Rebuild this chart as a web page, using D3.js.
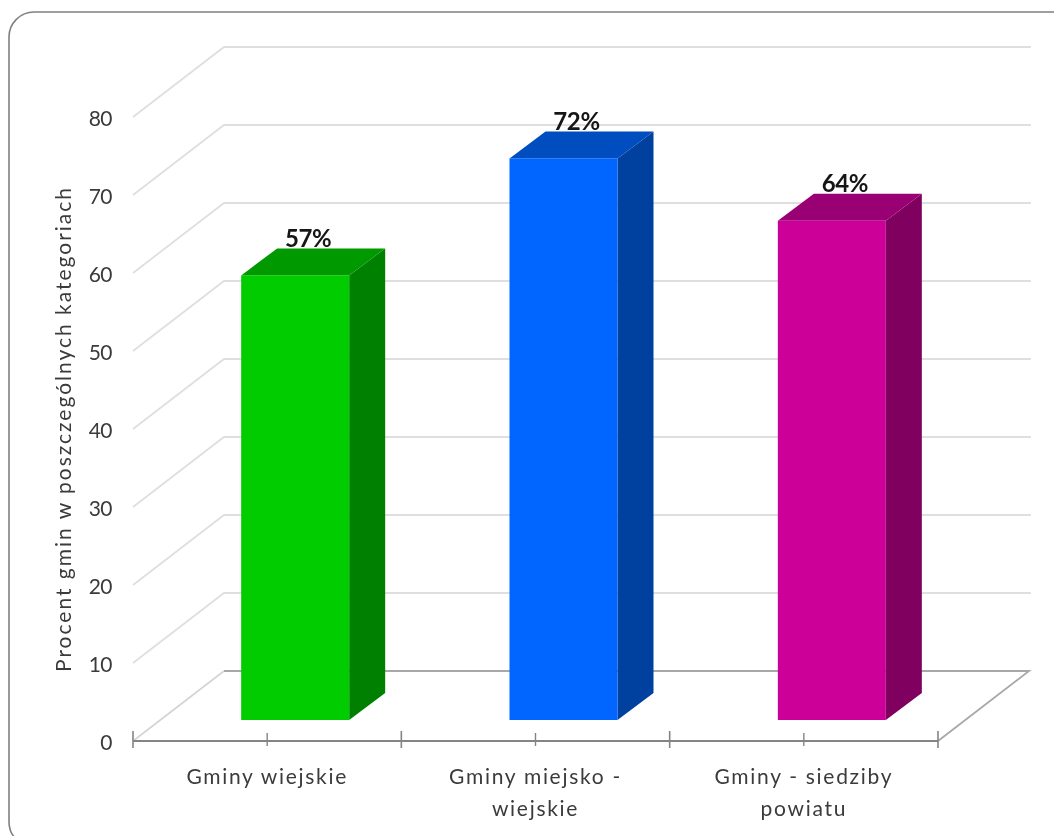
<!DOCTYPE html>
<html lang="pl">
<head>
<meta charset="utf-8">
<script src="https://cdn.jsdelivr.net/npm/d3@7/dist/d3.min.js"></script>
<style>
html,body{margin:0;padding:0;background:#fff;overflow:hidden}
svg{display:block}
text{font-family:Lato,"Open Sans",sans-serif}
</style>
</head>
<body>
<svg id="chart" width="1054" height="836"></svg>
<script>
const categories = ["Gminy wiejskie", "Gminy miejsko - wiejskie", "Gminy - siedziby powiatu"];
const categoryLines = [["Gminy wiejskie"], ["Gminy miejsko -", "wiejskie"], ["Gminy - siedziby", "powiatu"]];
const values = [57, 72, 64];
const valueLabels = ["57%", "72%", "64%"];
const yTicks = [0, 10, 20, 30, 40, 50, 60, 70, 80];
const yTitle = "Procent gmin w poszczególnych kategoriach";
const frontColors = ["#00cc00", "#0066ff", "#cc0099"];
const topColors = ["#009900", "#004dbf", "#990073"];
const sideColors = ["#008000", "#00409f", "#800060"];

const svg = d3.select("#chart");
svg.append("defs").append("filter").attr("id", "soft")
  .attr("filterUnits", "userSpaceOnUse")
  .attr("x", 0).attr("y", 0).attr("width", 1054).attr("height", 836)
  .append("feGaussianBlur").attr("stdDeviation", 0.6);
const root = svg.append("g").attr("filter", "url(#soft)");

const x = d3.scaleBand().domain(categories).range([133, 938]);
const y = d3.scaleLinear().domain([0, 80]).range([741, 117]);
const wallDx = 91, wallDy = -70;           // oblique depth of the chart box
const barDx = 36, barDy = -27;             // oblique depth of a bar
const gapDx = 28, gapDy = -21;             // distance of bars from the front edge
const barW = 108;

// frame
root.append("rect").attr("x", 9).attr("y", 12).attr("width", 1100).attr("height", 835)
  .attr("rx", 25).attr("fill", "#fff").attr("stroke", "#808080").attr("stroke-width", 1.6);

// gridlines on side and back walls
root.append("g").selectAll("polyline").data(yTicks.slice(1)).join("polyline")
  .attr("points", d => [[133, y(d)], [133 + wallDx, y(d) + wallDy], [1031, y(d) + wallDy]].join(" "))
  .attr("fill", "none").attr("stroke", "#dfdfdf").attr("stroke-width", 1.8);

// floor
root.append("polyline")
  .attr("points", [[133, y(0)], [133 + wallDx, y(0) + wallDy]].join(" "))
  .attr("fill", "none").attr("stroke", "#d4d4d4").attr("stroke-width", 1.6);
root.append("polyline")
  .attr("points", [[133 + wallDx, y(0) + wallDy], [938 + wallDx, y(0) + wallDy], [938, y(0)]].join(" "))
  .attr("fill", "none").attr("stroke", "#a8a8a8").attr("stroke-width", 1.8);

// x axis
root.append("line").attr("x1", 133).attr("x2", 938).attr("y1", y(0)).attr("y2", y(0))
  .attr("stroke", "#848484").attr("stroke-width", 2.2);
const boundaries = [133].concat(categories.map(c => x(c) + x.bandwidth()));
root.append("g").selectAll("line").data(boundaries).join("line")
  .attr("x1", d => d).attr("x2", d => d).attr("y1", y(0) - 10).attr("y2", y(0) + 7)
  .attr("stroke", "#848484").attr("stroke-width", 1.6);
root.append("g").selectAll("line").data(categories).join("line")
  .attr("x1", d => x(d) + x.bandwidth() / 2).attr("x2", d => x(d) + x.bandwidth() / 2)
  .attr("y1", y(0) - 8).attr("y2", y(0) + 5)
  .attr("stroke", "#848484").attr("stroke-width", 1.4);

// bars
const bars = root.append("g").selectAll("g").data(categories).join("g");
const bx = c => x(c) + x.bandwidth() / 2 + gapDx - barW / 2;
const by0 = y(0) + gapDy;
const by = i => by0 - (y(0) - y(values[i]));
bars.append("polygon").attr("fill", (c, i) => sideColors[i])
  .attr("points", (c, i) => [[bx(c) + barW, by(i)], [bx(c) + barW + barDx, by(i) + barDy],
    [bx(c) + barW + barDx, by0 + barDy], [bx(c) + barW, by0]].join(" "));
bars.append("polygon").attr("fill", (c, i) => topColors[i])
  .attr("points", (c, i) => [[bx(c), by(i)], [bx(c) + barDx, by(i) + barDy],
    [bx(c) + barW + barDx, by(i) + barDy], [bx(c) + barW, by(i)]].join(" "));
bars.append("rect").attr("fill", (c, i) => frontColors[i])
  .attr("x", c => bx(c)).attr("y", (c, i) => by(i)).attr("width", barW).attr("height", (c, i) => by0 - by(i));
bars.append("text").text((c, i) => valueLabels[i])
  .attr("x", c => bx(c) + barW / 2 + 13).attr("y", (c, i) => by(i) + barDy - 1.5)
  .attr("text-anchor", "middle").attr("font-size", 24).attr("font-weight", 700)
  .attr("letter-spacing", -0.4).attr("fill", "#151515");

// y axis labels
const yAxis = root.append("g").attr("transform", "translate(112,0)")
  .call(d3.axisLeft(y).tickValues(yTicks).tickSize(0).tickPadding(0));
yAxis.select(".domain").remove();
yAxis.selectAll("text").attr("font-size", 21).attr("fill", "#3a3a3a")
  .style("font-family", "Lato,'Open Sans',sans-serif").attr("dy", "0.4em")
  .attr("letter-spacing", -0.5);

// y title
root.append("text").text(yTitle)
  .attr("transform", "translate(71,430) rotate(-90)").attr("text-anchor", "middle")
  .attr("font-size", 21).attr("fill", "#3a3a3a")
  .attr("textLength", 484).attr("lengthAdjust", "spacing");

// category labels
const catLabels = root.append("g").selectAll("text").data(categories).join("text")
  .attr("text-anchor", "middle").attr("font-size", 21).attr("fill", "#3a3a3a");
catLabels.each(function (c, i) {
  d3.select(this).selectAll("tspan").data(categoryLines[i]).join("tspan")
    .attr("x", x(c) + x.bandwidth() / 2).attr("y", (d, k) => 784 + k * 32)
    .attr("letter-spacing", 1.7).text(d => d);
});
</script>
</body>
</html>
